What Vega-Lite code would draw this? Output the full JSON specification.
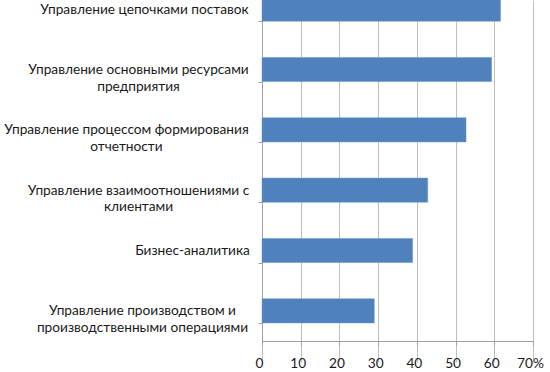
{
  "$schema": "https://vega.github.io/schema/vega-lite/v6.json",
  "width": 271,
  "height": 341,
  "autosize": {"type": "none"},
  "padding": {"left": 262, "top": 0, "right": 17, "bottom": 31},
  "background": "white",
  "data": {
    "values": [
      {"category": "Управление цепочками поставок", "value": 61.6},
      {"category": "Управление основными ресурсами\nпредприятия", "value": 59.3},
      {"category": "Управление процессом формирования\nотчетности", "value": 52.7},
      {"category": "Управление взаимоотношениями с\nклиентами", "value": 42.8},
      {"category": "Бизнес-аналитика", "value": 38.9},
      {"category": "Управление производством и\nпроизводственными операциями", "value": 29.0}
    ]
  },
  "mark": {"type": "bar", "color": "#4F81BD", "stroke": "#6A94C9", "strokeWidth": 0.5},
  "encoding": {
    "y": {
      "field": "category",
      "type": "nominal",
      "sort": null,
      "scale": {"range": [-21, 341], "paddingInner": 0.6, "paddingOuter": 0.3},
      "axis": {
        "title": null,
        "domainColor": "#A0A0A0",
        "tickColor": "#A0A0A0",
        "tickSize": 4,
        "tickBand": "extent",
        "labelExpr": "split(datum.label, '\\n')",
        "labelLimit": 0,
        "labelFont": "Lato",
        "labelFontSize": 13.7,
        "labelColor": "#1A1A1A",
        "labelLineHeight": 16.6,
        "labelBaseline": "middle",
        "labelAlign": "center",
        "labelPadding": {
          "condition": [
            {"test": "datum.value === 'Управление цепочками поставок'", "value": 114},
            {"test": "datum.value === 'Управление основными ресурсами\\nпредприятия'", "value": 120},
            {"test": "datum.value === 'Управление процессом формирования\\nотчетности'", "value": 132},
            {"test": "datum.value === 'Управление взаимоотношениями с\\nклиентами'", "value": 120},
            {"test": "datum.value === 'Бизнес-аналитика'", "value": 66}
          ],
          "value": 116
        }
      }
    },
    "x": {
      "field": "value",
      "type": "quantitative",
      "scale": {"domain": [0, 70], "nice": false},
      "axis": {
        "title": null,
        "values": [0, 10, 20, 30, 40, 50, 60, 70],
        "labelExpr": "datum.value == 70 ? '70%' : datum.label",
        "grid": true,
        "gridColor": "#BFBFBF",
        "gridWidth": 1,
        "domainColor": "#A0A0A0",
        "tickColor": "#A0A0A0",
        "tickSize": 4,
        "labelFont": "Lato",
        "labelFontSize": 13.7,
        "labelColor": "#1A1A1A",
        "labelPadding": 11,
        "labelOffset": -3,
        "labelFlush": false,
        "labelOverlap": false
      }
    }
  },
  "config": {"view": {"stroke": null}}
}
